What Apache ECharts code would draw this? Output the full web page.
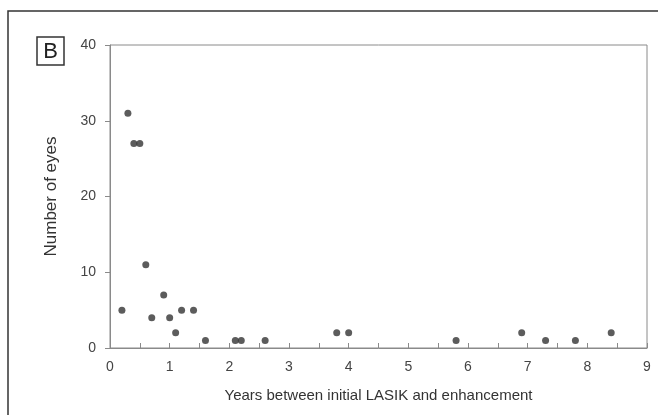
<!DOCTYPE html>
<html>
<head>
<meta charset="utf-8">
<script src="https://cdn.jsdelivr.net/npm/echarts@6/dist/echarts.min.js"></script>
<style>
  html, body { margin: 0; padding: 0; background: #fff; }
  #chart { width: 658px; height: 415px; }
</style>
</head>
<body>
<div id="chart"></div>
<script>
// years between initial LASIK and enhancement
const years = [0.2, 0.3, 0.4, 0.5, 0.6, 0.7, 0.9, 1.0, 1.1, 1.2, 1.4, 1.6, 2.1, 2.2, 2.6, 3.8, 4.0, 5.8, 6.9, 7.3, 7.8, 8.4];
// number of eyes
const eyes = [5, 31, 27, 27, 11, 4, 7, 4, 2, 5, 5, 1, 1, 1, 1, 2, 2, 1, 2, 1, 1, 2];

const font = "Liberation Sans";

let myChart = echarts.init(document.getElementById("chart"));
myChart.setOption({
  animation: false,
  textStyle: { fontFamily: font },
  grid: {
    left: 110,
    right: 11,
    top: 45,
    bottom: 67,
    show: true,
    borderColor: "#8a8a8a",
    borderWidth: 1,
  },
  graphic: [
    {
      type: "rect",
      shape: { x: 8, y: 11, width: 660, height: 420 },
      style: { fill: "none", stroke: "#333", lineWidth: 1.5 },
    },
    {
      type: "rect",
      shape: { x: 37, y: 37, width: 27, height: 28 },
      style: { fill: "none", stroke: "#333", lineWidth: 1.5 },
    },
    {
      type: "text",
      x: 50.5,
      y: 51.5,
      style: {
        text: "B",
        fontFamily: font,
        fontSize: 22,
        fill: "#222",
        align: "center",
        verticalAlign: "middle",
      },
    },
  ],
  xAxis: {
    type: "value",
    min: 0,
    max: 9,
    interval: 1,
    name: "Years between initial LASIK and enhancement",
    nameLocation: "middle",
    nameGap: 40,
    nameTextStyle: { fontSize: 15, color: "#333" },
    axisLine: { lineStyle: { color: "#8a8a8a" } },
    axisTick: { inside: true, length: 5, lineStyle: { color: "#8a8a8a" } },
    minorTick: { show: true, splitNumber: 2, length: 5, lineStyle: { color: "#8a8a8a" } },
    axisLabel: { fontSize: 14, color: "#444", margin: 12 },
    splitLine: { show: false },
  },
  yAxis: {
    type: "value",
    min: 0,
    max: 40,
    interval: 10,
    name: "Number of eyes",
    nameLocation: "middle",
    nameGap: 50,
    nameTextStyle: { fontSize: 17, color: "#333" },
    axisLine: { show: true, lineStyle: { color: "#8a8a8a" } },
    axisTick: { show: true, length: 5, lineStyle: { color: "#8a8a8a" } },
    axisLabel: { fontSize: 14, color: "#444", margin: 14 },
    splitLine: { show: false },
  },
  series: [
    {
      type: "scatter",
      data: years.map((x, i) => [x, eyes[i]]),
      symbolSize: 7,
      itemStyle: { color: "#333" },
    },
  ],
});
</script>
</body>
</html>
